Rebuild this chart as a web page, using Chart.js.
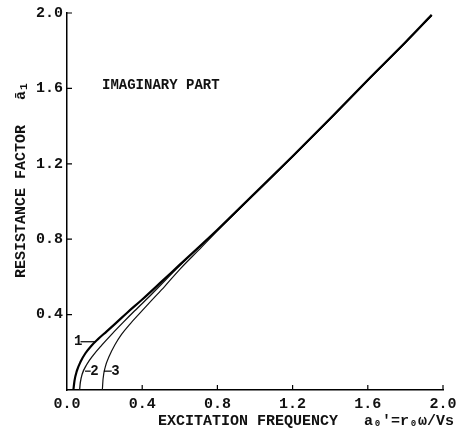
<!DOCTYPE html>
<html>
<head>
<meta charset="utf-8">
<script src="https://cdn.jsdelivr.net/npm/chart.js@4.4.0/dist/chart.umd.min.js"></script>
<style>
  html, body { margin: 0; padding: 0; background: #fff; }
  #wrap { width: 469px; height: 432px; }
</style>
</head>
<body>
<div id="wrap"><canvas id="imag-part"></canvas></div>
<script>
// curve 1 (thick), curve 2, curve 3 : resistance factor vs excitation frequency
const x1 = [0.034, 0.040, 0.052, 0.072, 0.098, 0.130, 0.165, 0.210, 0.260, 0.320, 0.40, 0.50, 0.60, 0.80, 1.00, 1.20, 1.40, 1.60, 1.80, 1.94];
const y1 = [0.0, 0.050, 0.100, 0.150, 0.195, 0.235, 0.270, 0.310, 0.355, 0.410, 0.480, 0.572, 0.665, 0.850, 1.045, 1.240, 1.440, 1.645, 1.845, 1.990];

const x2 = [0.067, 0.071, 0.081, 0.105, 0.140, 0.185, 0.240, 0.300, 0.360, 0.450, 0.60, 0.80, 1.00, 1.20, 1.40, 1.60, 1.80, 1.94];
const y2 = [0.0, 0.040, 0.085, 0.135, 0.185, 0.238, 0.298, 0.360, 0.420, 0.508, 0.660, 0.848, 1.043, 1.238, 1.438, 1.643, 1.843, 1.988];

const x3 = [0.188, 0.192, 0.203, 0.225, 0.255, 0.290, 0.335, 0.390, 0.450, 0.520, 0.600, 0.700, 0.800, 1.00, 1.20, 1.40, 1.60, 1.80, 1.94];
const y3 = [0.0, 0.060, 0.120, 0.180, 0.240, 0.295, 0.350, 0.410, 0.475, 0.550, 0.640, 0.742, 0.845, 1.041, 1.237, 1.437, 1.642, 1.842, 1.987];

const xTicks = [0.0, 0.4, 0.8, 1.2, 1.6, 2.0];
const yTicks = [0.4, 0.8, 1.2, 1.6, 2.0];

// curve labels: [text, text x, text y, leader from x, leader to x]
const curveLabels = [
  ['1', 0.060, 0.256, 0.072, 0.152],
  ['2', 0.146, 0.100, 0.096, 0.126],
  ['3', 0.258, 0.100, 0.196, 0.238]
];

const FONT = '"Liberation Mono", "DejaVu Sans Mono", monospace';

function pts(xs, ys) {
  return xs.map((x, i) => ({ x: x, y: ys[i] }));
}

// inward tick marks + text annotations
const annotate = {
  id: 'annotate',
  afterDraw(chart) {
    const ctx = chart.ctx;
    const xs = chart.scales.x, ys = chart.scales.y;
    const area = chart.chartArea;
    ctx.save();
    ctx.strokeStyle = '#000';
    ctx.lineWidth = 1.2;
    ctx.beginPath();
    xTicks.forEach(v => {
      if (v === 0) return;
      const px = xs.getPixelForValue(v);
      ctx.moveTo(px, area.bottom);
      ctx.lineTo(px, area.bottom - 5);
    });
    yTicks.forEach(v => {
      const py = ys.getPixelForValue(v);
      ctx.moveTo(area.left, py);
      ctx.lineTo(area.left + 5, py);
    });
    ctx.stroke();

    ctx.fillStyle = '#111';
    ctx.font = 'bold 14px ' + FONT;
    ctx.textBaseline = 'middle';
    ctx.fillText('IMAGINARY PART', 102, 85);

    // curve labels with leaders
    ctx.lineWidth = 1.2;
    curveLabels.forEach(l => {
      const ty = ys.getPixelForValue(l[2]);
      ctx.beginPath();
      ctx.moveTo(xs.getPixelForValue(l[3]), ty);
      ctx.lineTo(xs.getPixelForValue(l[4]), ty);
      ctx.stroke();
      ctx.textAlign = 'center';
      ctx.fillText(l[0], xs.getPixelForValue(l[1]), ty);
    });

    // axis titles
    ctx.font = 'bold 15px ' + FONT;
    ctx.textAlign = 'left';
    ctx.fillText('EXCITATION FREQUENCY', 158, 421);
    ctx.fillText('a\u2080\'=r\u2080\u03c9/Vs', 364, 421);

    ctx.translate(21, 278);
    ctx.rotate(-Math.PI / 2);
    ctx.fillText('RESISTANCE FACTOR', 0, 0);
    ctx.fillText('\u0101', 178, 0);
    ctx.font = 'bold 11px ' + FONT;
    ctx.fillText('1', 188, 3);
    ctx.restore();
  }
};

new Chart(document.getElementById('imag-part'), {
  type: 'scatter',
  data: {
    datasets: [
      { label: '1', data: pts(x1, y1), showLine: true, borderColor: '#000', borderWidth: 2.2, pointRadius: 0, cubicInterpolationMode: 'monotone' },
      { label: '2', data: pts(x2, y2), showLine: true, borderColor: '#111', borderWidth: 1.3, pointRadius: 0, cubicInterpolationMode: 'monotone' },
      { label: '3', data: pts(x3, y3), showLine: true, borderColor: '#111', borderWidth: 1.2, pointRadius: 0, cubicInterpolationMode: 'monotone' }
    ]
  },
  options: {
    responsive: true,
    maintainAspectRatio: false,
    animation: false,
    layout: { padding: { left: 0, right: 26, top: 12, bottom: 0 } },
    plugins: { legend: { display: false }, tooltip: { enabled: false } },
    scales: {
      x: {
        type: 'linear', min: 0, max: 2,
        afterFit: s => { s.height = 42; },
        afterBuildTicks: s => { s.ticks = xTicks.map(v => ({ value: v })); },
        grid: { display: false, drawTicks: false },
        border: { display: true, color: '#000', width: 1.5 },
        ticks: { color: '#111', padding: 5, maxRotation: 0, font: { family: FONT, size: 15, weight: 'bold' }, callback: v => v.toFixed(1) }
      },
      y: {
        type: 'linear', min: 0, max: 2,
        afterFit: s => { s.width = 67; },
        afterBuildTicks: s => { s.ticks = yTicks.map(v => ({ value: v })); },
        grid: { display: false, drawTicks: false },
        border: { display: true, color: '#000', width: 1.5 },
        ticks: { color: '#111', padding: 4, font: { family: FONT, size: 15, weight: 'bold' }, callback: v => v.toFixed(1) }
      }
    }
  },
  plugins: [annotate]
});
</script>
</body>
</html>
